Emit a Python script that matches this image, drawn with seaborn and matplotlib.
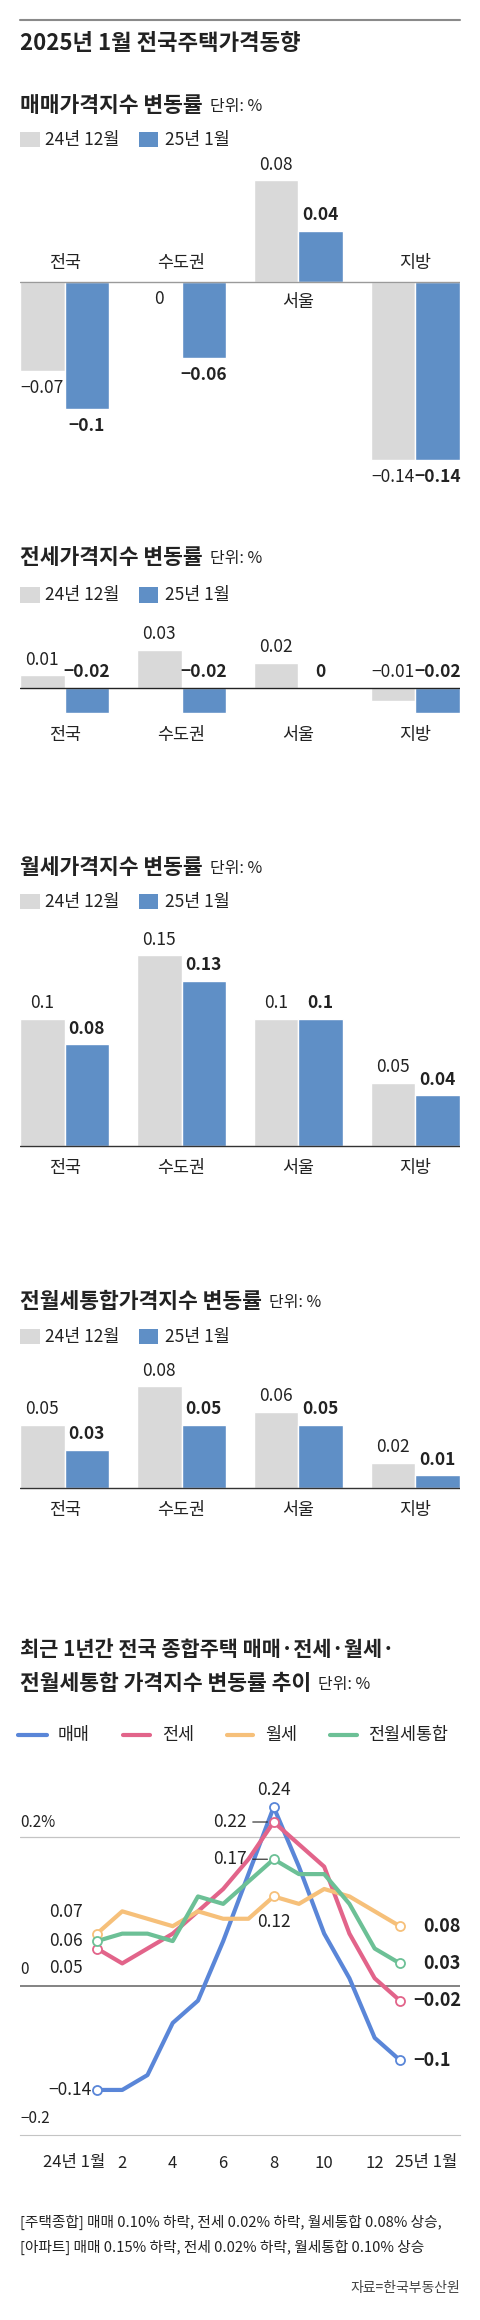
import numpy as np
import pandas as pd
import matplotlib
matplotlib.use('Agg')
import matplotlib.pyplot as plt
from matplotlib.patches import Rectangle
from matplotlib.lines import Line2D
import seaborn as sns

sns.set_style('white')
plt.rcParams['font.family'] = ['Noto Sans CJK KR', 'DejaVu Sans']
plt.rcParams['text.color'] = '#222222'

# ---- data ----
regions = ['전국', '수도권', '서울', '지방']
periods = ['24년 12월', '25년 1월']

sale_dec = [-0.07, 0, 0.08, -0.14]
sale_jan = [-0.1, -0.06, 0.04, -0.14]
jeonse_dec = [0.01, 0.03, 0.02, -0.01]
jeonse_jan = [-0.02, -0.02, 0, -0.02]
wolse_dec = [0.1, 0.15, 0.1, 0.05]
wolse_jan = [0.08, 0.13, 0.1, 0.04]
combo_dec = [0.05, 0.08, 0.06, 0.02]
combo_jan = [0.03, 0.05, 0.05, 0.01]

series_names = ['매매', '전세', '월세', '전월세통합']
months = ['24년 1월', '2', '3', '4', '5', '6', '7', '8', '9', '10', '11', '12', '25년 1월']
trend_sale = [-0.14, -0.14, -0.12, -0.05, -0.02, 0.06, 0.15, 0.24, 0.16, 0.07, 0.01, -0.07, -0.1]
trend_jeonse = [0.05, 0.03, 0.05, 0.07, 0.10, 0.13, 0.17, 0.22, 0.19, 0.16, 0.07, 0.01, -0.02]
trend_wolse = [0.07, 0.10, 0.09, 0.08, 0.10, 0.09, 0.09, 0.12, 0.11, 0.13, 0.12, 0.10, 0.08]
trend_combo = [0.06, 0.07, 0.07, 0.06, 0.12, 0.11, 0.14, 0.17, 0.15, 0.15, 0.11, 0.05, 0.03]
tick_months = [0, 1, 3, 5, 7, 9, 11, 12]
tick_labels = ['24년 1월', '2', '4', '6', '8', '10', '12', '25년 1월']

notes = ['[주택종합] 매매 0.10% 하락, 전세 0.02% 하락, 월세통합 0.08% 상승,',
         '[아파트] 매매 0.15% 하락, 전세 0.02% 하락, 월세통합 0.10% 상승']

# ---- style ----
GRAY = '#d9d9d9'
BLUE = '#5f8fc6'
LINE_COLORS = ['#5a86d8', '#e2648a', '#f6c07a', '#6cc096']
BAR_W = 0.763
SCALE = 1270   # px per 1 %p in bar panels
PT = 0.72      # px -> pt at dpi 100

W, H = 480, 2320
fig = plt.figure(figsize=(W / 100, H / 100), dpi=100)
renderer = fig.canvas.get_renderer()


def px_axes(x0, y0, x1, y1):
    return fig.add_axes([x0 / W, 1 - y1 / H, (x1 - x0) / W, (y1 - y0) / H])


def px_text(x, y, s, **kw):
    kw.setdefault('va', 'center')
    return fig.text(x / W, 1 - y / H, s, **kw)


def fmt(v):
    return f'{v:g}'.replace('-', '−')


def title_with_unit(y, title):
    t = px_text(20, y, title, fontsize=15.5, fontweight='bold')
    bb = t.get_window_extent(renderer=renderer)
    px_text(bb.x1 + 7, y + 1, '단위: %', fontsize=11.5)


def bar_legend(y):
    fig.add_artist(Rectangle((20 / W, 1 - (y + 7.5) / H), 19.5 / W, 15 / H,
                             transform=fig.transFigure, color=GRAY, lw=0))
    px_text(45, y, periods[0], fontsize=12.5)
    fig.add_artist(Rectangle((138.5 / W, 1 - (y + 7.5) / H), 19 / W, 15 / H,
                             transform=fig.transFigure, color=BLUE, lw=0))
    px_text(165, y, periods[1], fontsize=12.5)


def bar_panel(title, title_y, legend_y, zero_y, ylim, dec, jan, mode, zero_color):
    title_with_unit(title_y, title)
    bar_legend(legend_y)
    ax = px_axes(20, zero_y - ylim[1] * SCALE, 460, zero_y - ylim[0] * SCALE)
    df = pd.DataFrame({'지역': regions * 2,
                       '기간': [periods[0]] * 4 + [periods[1]] * 4,
                       '변동률': dec + jan})
    sns.barplot(data=df, x='지역', y='변동률', hue='기간', palette=[GRAY, BLUE],
                width=BAR_W, saturation=1, legend=False, ax=ax)
    ax.set_xlim(-BAR_W / 2, 3 + BAR_W / 2)
    ax.set_ylim(*ylim)
    ax.axhline(0, color=zero_color, lw=1)
    ax.axis('off')

    for i in range(len(regions)):
        for k, vals in enumerate((dec, jan)):
            v = vals[i]
            x = i + (k - 0.5) * BAR_W / 2
            if v > 0:
                y, dy = v, 15.5
            elif mode == 'sign':
                y, dy = v, -17.5
            else:
                y, dy = 0, 16.3
            ax.annotate(fmt(v), (x, y), xytext=(0, dy * PT), textcoords='offset points',
                        ha='center', va='center', fontsize=12.5,
                        fontweight='bold' if k == 1 else 'normal')
        if mode == 'sign':
            dy = 18.7 if max(dec[i], jan[i]) <= 0 else -20.3
        elif mode == 'zero':
            dy = -47
        else:
            dy = -22
        ax.annotate(regions[i], (i, 0), xytext=(0, dy * PT), textcoords='offset points',
                    ha='center', va='center', fontsize=12.5)


# ---- header ----
fig.add_artist(Line2D([20 / W, 460 / W], [1 - 20 / H] * 2, color='#8a8a8a', lw=1.5))
px_text(20, 43, '2025년 1월 전국주택가격동향', fontsize=16, fontweight='bold')

bar_panel('매매가격지수 변동률', 105, 139.5, 281.7, (-0.16, 0.10), sale_dec, sale_jan, 'sign', '#9a9a9a')
bar_panel('전세가격지수 변동률', 557, 595, 688, (-0.05, 0.05), jeonse_dec, jeonse_jan, 'zero', '#222222')
bar_panel('월세가격지수 변동률', 868, 901.7, 1146, (-0.02, 0.17), wolse_dec, wolse_jan, 'top', '#333333')
bar_panel('전월세통합가격지수 변동률', 1301.7, 1336.7, 1488, (-0.02, 0.10), combo_dec, combo_jan, 'top', '#333333')

# ---- trend chart ----
px_text(20, 1650, '최근 1년간 전국 종합주택 매매·전세·월세·', fontsize=15, fontweight='bold')
title_with_unit(1683, '전월세통합 가격지수 변동률 추이')

leg_x = [(18, 47, 58), (123, 150, 162), (227, 253, 265), (330, 357, 368)]
for (a, b, tx), name, c in zip(leg_x, series_names, LINE_COLORS):
    fig.add_artist(Line2D([a / W, b / W], [1 - 1735 / H] * 2, color=c, lw=3,
                          solid_capstyle='round'))
    px_text(tx, 1735, name, fontsize=12.5)

series = [trend_sale, trend_jeonse, trend_wolse, trend_combo]
trend_df = pd.DataFrame({
    '월': list(range(len(months))) * 4,
    '변동률': sum(series, []),
    '구분': [n for n in series_names for _ in months],
})

ax = px_axes(20, 1790, 460, 2134.6)
sns.lineplot(data=trend_df, x='월', y='변동률', hue='구분', hue_order=series_names,
             palette=LINE_COLORS, linewidth=3, errorbar=None, legend=False, ax=ax)
ax.set_xlim(-3.05, 14.38)
ax.set_ylim(-0.2, 0.263)
ax.axhline(0.2, color='#c4c4c4', lw=0.9, zorder=0)
ax.axhline(0, color='#7a7a7a', lw=1.3, zorder=0)
for s in ['left', 'right', 'top']:
    ax.spines[s].set_visible(False)
ax.spines['bottom'].set_color('#c4c4c4')
ax.set_xticks(tick_months)
ax.tick_params(axis='x', length=8, width=1, color='#444444', labelbottom=False, direction='out')
ax.set_yticks([])
ax.set_xlabel('')
ax.set_ylabel('')

for vals, c in zip(series, LINE_COLORS):
    idx = [0, 7, 12]
    ax.plot(idx, [vals[j] for j in idx], 'o', ms=6.5, mfc='white', mec=c, mew=1.3, zorder=5)

for m, lab in zip(tick_months, tick_labels):
    if m == 0:
        ha, dx = 'right', 8
    elif m == 12:
        ha, dx = 'left', -5
    else:
        ha, dx = 'center', 0
    ax.annotate(lab, (m, 0), xycoords=('data', 'axes fraction'), xytext=(dx * PT, -28.4 * PT),
                textcoords='offset points', ha=ha, va='center', fontsize=12)

for v, lab, dy in [(0.2, '0.2%', 14), (0, '0', 16), (-0.2, '−0.2', 16)]:
    ax.annotate(lab, (0, v), xycoords=('axes fraction', 'data'), xytext=(0, dy * PT),
                textcoords='offset points', ha='left', va='center', fontsize=11)

# start-point labels
start_off = [(-5, 0), (-14, -19), (-14, 22), (-14, 0)]
for vals, (dx, dy) in zip(series, start_off):
    ax.annotate(fmt(vals[0]), (0, vals[0]), xytext=(dx * PT, dy * PT), textcoords='offset points',
                ha='right', va='center', fontsize=12.5)

# end-point labels
end_dx = [13, 13, 23, 23]
for vals, dx in zip(series, end_dx):
    ax.annotate(fmt(vals[-1]), (12, vals[-1]), xytext=(dx * PT, 0), textcoords='offset points',
                ha='left', va='center', fontsize=13, fontweight='bold')

# peak labels
ax.annotate(fmt(trend_sale[7]), (7, trend_sale[7]), xytext=(0, 17 * PT), textcoords='offset points',
            ha='center', va='center', fontsize=12.5)
for vals in (trend_jeonse, trend_combo):
    ax.annotate(fmt(vals[7]), (7, vals[7]), xytext=(-27 * PT, 0), textcoords='offset points',
                ha='right', va='center', fontsize=12.5,
                arrowprops=dict(arrowstyle='-', color='#222222', lw=0.8, shrinkA=2, shrinkB=4.5,
                                relpos=(1, 0.5)))
ax.annotate(fmt(trend_wolse[7]), (7, trend_wolse[7]), xytext=(0, -26 * PT), textcoords='offset points',
            ha='center', va='center', fontsize=12.5)

# ---- notes ----
px_text(20, 2222, notes[0], fontsize=10.6)
px_text(20, 2247, notes[1], fontsize=10.6)
px_text(460, 2288, '자료=한국부동산원', fontsize=10, ha='right', color='#444444')

fig.savefig('out.png', dpi=100)
